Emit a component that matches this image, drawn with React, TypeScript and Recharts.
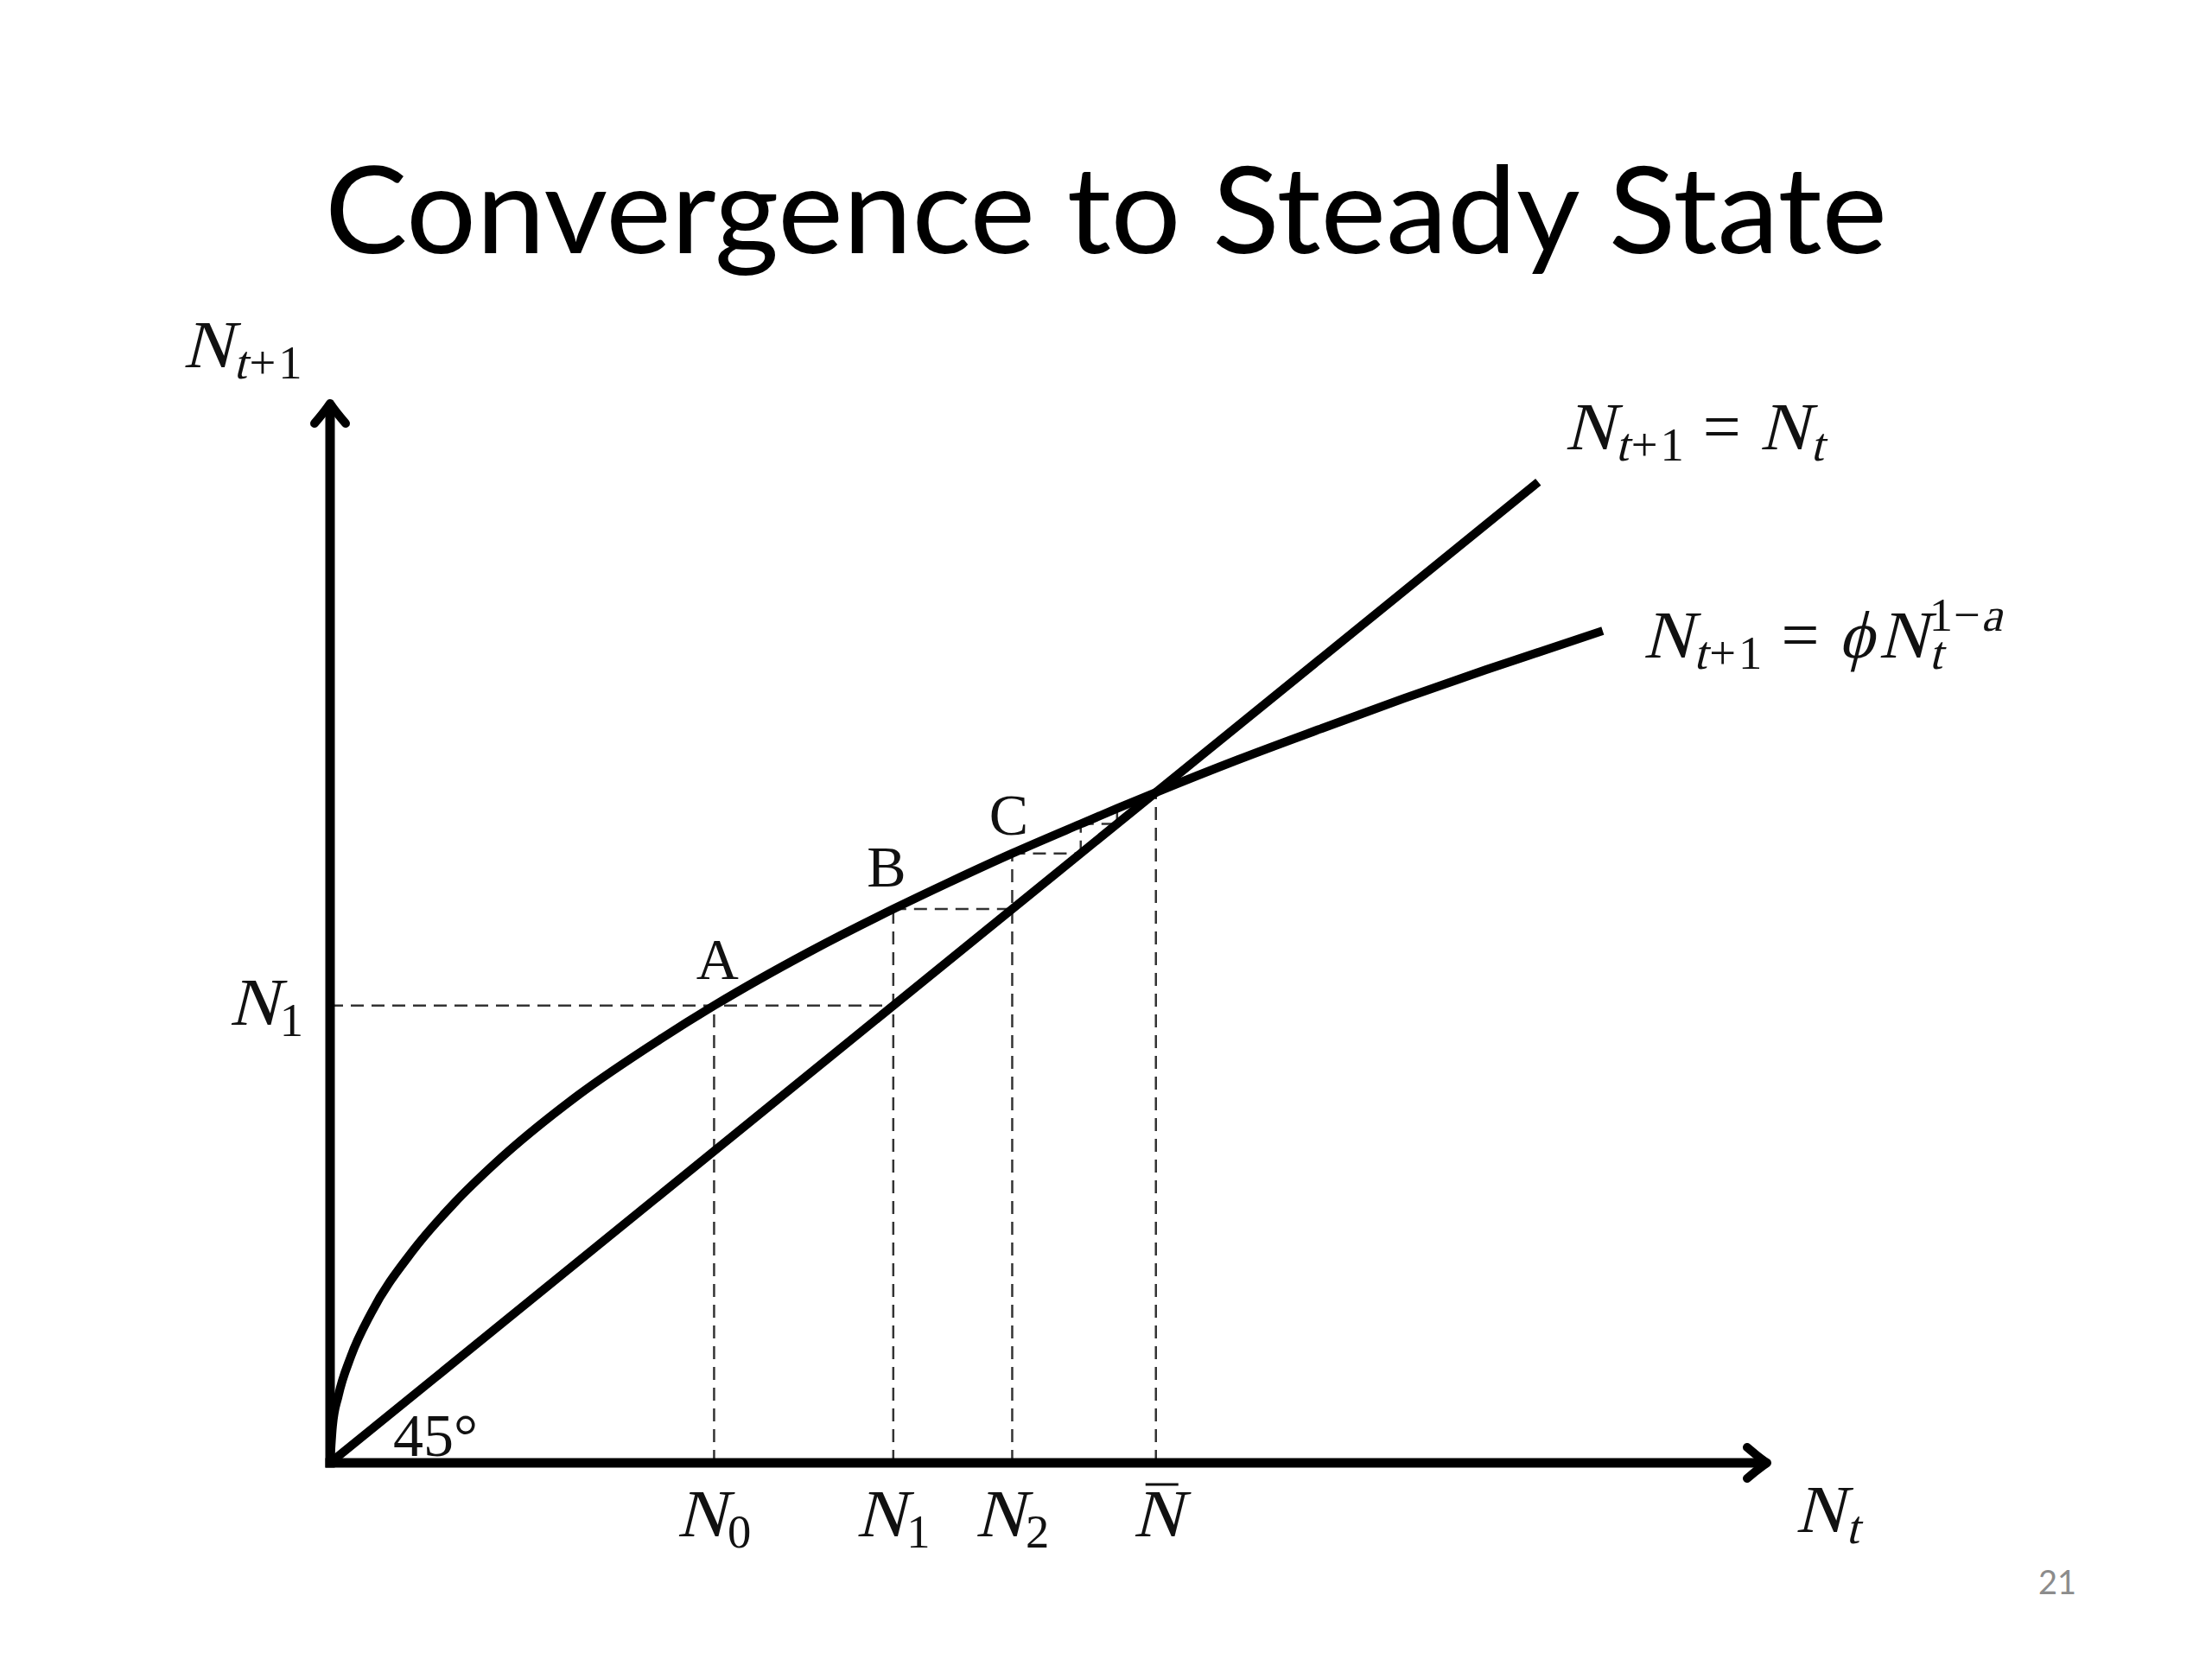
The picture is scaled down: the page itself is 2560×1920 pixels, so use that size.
import React from "react";
import {
  ComposedChart,
  Line,
  XAxis,
  YAxis,
  ReferenceLine,
  ReferenceDot,
} from "recharts";

// values (N_t on x, N_t+1 on y, steady state = 1)
const curveX = [0, 0.003, 0.01, 0.025, 0.05, 0.1, 0.15, 0.2, 0.3, 0.4, 0.465, 0.58, 0.682, 0.75, 0.826, 0.909, 0.953, 1.0, 1.1, 1.2, 1.3, 1.4, 1.541];
const curveY = [0, 0.055, 0.1, 0.158, 0.224, 0.316, 0.387, 0.447, 0.548, 0.632, 0.682, 0.762, 0.826, 0.866, 0.909, 0.953, 0.976, 1.0, 1.049, 1.095, 1.14, 1.183, 1.241];
const diagX = [0, 1.463];
const diagY = [0, 1.463];
// cobweb steps N0, N1, N2, N3, N4, N5
const stepN = [0.465, 0.682, 0.826, 0.909, 0.953, 0.976];
const steadyN = 1.0;
const tickValues = [stepN[0], stepN[1], stepN[2], steadyN];
const tickSubs = ["0", "1", "2", ""];
const pointNames = ["A", "B", "C"];
const xMax = 1.74;
const yMax = 1.58;

const curveData = curveX.map((x, i) => ({ x, y: curveY[i] }));
const diagData = diagX.map((x, i) => ({ x, y: diagY[i] }));

const SERIF = "'Liberation Serif', 'DejaVu Serif', serif";
const MATH_SIZE = 78;

// Liberation Serif advance widths (em), used to lay out the math pieces
const ADV: Record<string, number> = {
  N: 0.722, t: 0.278, "+": 0.564, "0": 0.5, "1": 0.5, "2": 0.5,
  "=": 0.564, "\u2212": 0.564, a: 0.444, "\u03D5": 0.6,
};

type Piece = { t: string; it?: boolean; lv?: number; dx?: number };

function MathText({ x, y, parts, anchor = "start" }: { x: number; y: number; parts: Piece[]; anchor?: string }) {
  let cx = 0;
  const items = parts.map((p) => {
    const size = p.lv ? MATH_SIZE * 0.7 : MATH_SIZE;
    cx += p.dx ?? 0;
    const px = cx;
    cx += [...p.t].reduce((s, c) => s + (ADV[c] ?? 0.5) * size, 0);
    return { ...p, px, size };
  });
  const shift = anchor === "middle" ? -cx / 2 : anchor === "end" ? -cx : 0;
  return (
    <g>
      {items.map((p, i) => {
        const off = p.lv === 1 ? 13 : p.lv === -1 ? -31 : 0;
        const tx = x + shift + p.px;
        const ty = y + off;
        return (
          <text
            key={i}
            transform={`translate(${tx},${ty})${p.it ? " skewX(-14)" : ""}`}
            fontFamily={SERIF}
            fontSize={p.size}
            fill="#111"
          >
            {p.t}
          </text>
        );
      })}
    </g>
  );
}

const subT1: Piece[] = [
  { t: "t", it: true, lv: 1, dx: 2 },
  { t: "+", lv: 1, dx: 3 },
  { t: "1", lv: 1, dx: 3 },
];
const labelYAxis: Piece[] = [{ t: "N", it: true }, ...subT1];
const labelXAxis: Piece[] = [{ t: "N", it: true }, { t: "t", it: true, lv: 1, dx: 2 }];
const labelDiag: Piece[] = [
  { t: "N", it: true },
  ...subT1,
  { t: "=", dx: 22 },
  { t: "N", it: true, dx: 22 },
  { t: "t", it: true, lv: 1, dx: 2 },
];
const labelCurve: Piece[] = [
  { t: "N", it: true },
  ...subT1,
  { t: "=", dx: 22 },
  { t: "\u03D5", it: true, dx: 22 },
  { t: "N", it: true },
  { t: "t", it: true, lv: 1, dx: 2 },
  { t: "1", lv: -1, dx: -15 },
  { t: "\u2212", lv: -1, dx: 1 },
  { t: "a", it: true, lv: -1, dx: 1 },
];

function Arrow(props: any) {
  const { x1, y1, x2, y2 } = props;
  const ang = Math.atan2(y2 - y1, x2 - x1);
  const deg = (ang * 180) / Math.PI;
  const ex = x2 - Math.cos(ang) * 7;
  const ey = y2 - Math.sin(ang) * 7;
  return (
    <g>
      <line x1={x1} y1={y1} x2={ex} y2={ey} stroke="#000" strokeWidth={11} strokeLinecap="square" />
      <path
        transform={`translate(${x2},${y2}) rotate(${deg})`}
        d="M -23 -18 Q -9 -6 0 0 Q -9 6 -23 18"
        fill="none"
        stroke="#000"
        strokeWidth={10}
        strokeLinecap="round"
        strokeLinejoin="round"
      />
    </g>
  );
}

function XTick(props: any) {
  const { x, index } = props;
  const base = 1778;
  const sub = tickSubs[index] ?? "";
  if (!sub) {
    return (
      <g>
        <MathText x={x + 2} y={base} anchor="middle" parts={[{ t: "N", it: true }]} />
        <line x1={x - 12} y1={base - 60} x2={x + 26} y2={base - 60} stroke="#111" strokeWidth={3} />
      </g>
    );
  }
  return <MathText x={x} y={base} anchor="middle" parts={[{ t: "N", it: true }, { t: sub, lv: 1, dx: 2 }]} />;
}

function YTick(props: any) {
  const { y } = props;
  return <MathText x={351} y={y + 22} anchor="end" parts={[{ t: "N", it: true }, { t: "1", lv: 1, dx: 2 }]} />;
}

const dash = { stroke: "#333", strokeWidth: 2.5, strokeDasharray: "15 9" };

// cobweb segments built from the step values
const vSegs = stepN.slice(0, 5).map((n, i) => [
  { x: n, y: i < 3 ? 0 : n },
  { x: n, y: stepN[i + 1] },
]);
const hSegs = stepN.slice(0, 4).map((n, i) => [
  { x: i === 0 ? 0 : n, y: stepN[i + 1] },
  { x: stepN[i + 1], y: stepN[i + 1] },
]);

const letterOffsets = [
  [4, -31],
  [-8, -26],
  [-4, -22],
];

export default function App() {
  return (
    <div style={{ position: "absolute", left: 0, top: 0, width: 2560, height: 1920, background: "#fff" }}>
      <svg width={2560} height={330} style={{ position: "absolute", left: 0, top: 0 }}>
        <text x={1280} y={293} textAnchor="middle" fontFamily="Lato, 'Open Sans', sans-serif" fontSize={140} fill="#000" textLength={1808} lengthAdjust="spacingAndGlyphs">
          Convergence to Steady State
        </text>
      </svg>
      <div style={{ position: "absolute", left: 0, top: 0 }}>
        <ComposedChart width={2560} height={1920} margin={{ top: 467, right: 515, bottom: 127, left: 282 }}>
          <XAxis
            type="number"
            dataKey="x"
            domain={[0, xMax]}
            ticks={tickValues}
            interval={0}
            tick={<XTick />}
            axisLine={false}
            tickLine={false}
            height={100}
            allowDataOverflow
          />
          <YAxis
            type="number"
            domain={[0, yMax]}
            ticks={[stepN[1]]}
            interval={0}
            tick={<YTick />}
            axisLine={false}
            tickLine={false}
            width={100}
            allowDataOverflow
          />
          {vSegs.map((s, i) => (
            <ReferenceLine key={`v${i}`} segment={s} ifOverflow="visible" {...dash} />
          ))}
          {hSegs.map((s, i) => (
            <ReferenceLine key={`h${i}`} segment={s} ifOverflow="visible" {...dash} />
          ))}
          <ReferenceLine segment={[{ x: steadyN, y: 0 }, { x: steadyN, y: steadyN }]} ifOverflow="visible" {...dash} />
          <Line data={diagData} dataKey="y" type="linear" stroke="#000" strokeWidth={10} dot={false} isAnimationActive={false} />
          <Line data={curveData} dataKey="y" type="monotone" stroke="#000" strokeWidth={10} dot={false} isAnimationActive={false} />
          <ReferenceLine segment={[{ x: 0, y: 0 }, { x: xMax, y: 0 }]} ifOverflow="visible" shape={(p: any) => <Arrow {...p} />} />
          <ReferenceLine segment={[{ x: 0, y: 0 }, { x: 0, y: yMax }]} ifOverflow="visible" shape={(p: any) => <Arrow {...p} />} />
          {pointNames.map((name, i) => (
            <ReferenceDot
              key={name}
              x={stepN[i]}
              y={stepN[i + 1]}
              r={1}
              ifOverflow="visible"
              shape={(p: any) => (
                <text x={p.cx + letterOffsets[i][0]} y={p.cy + letterOffsets[i][1]} textAnchor="middle" fontFamily={SERIF} fontSize={68} fill="#111">
                  {name}
                </text>
              )}
            />
          ))}
          <ReferenceDot
            x={0}
            y={0}
            r={1}
            ifOverflow="visible"
            shape={(p: any) => (
              <text x={p.cx + 73} y={p.cy - 8} fontFamily={SERIF} fontSize={70} fill="#111">
                45°
              </text>
            )}
          />
          <ReferenceDot
            x={diagX[1]}
            y={diagY[1]}
            r={1}
            ifOverflow="visible"
            shape={(p: any) => <MathText x={p.cx + 31} y={p.cy - 38} parts={labelDiag} />}
          />
          <ReferenceDot
            x={curveX[curveX.length - 1]}
            y={curveY[curveY.length - 1]}
            r={1}
            ifOverflow="visible"
            shape={(p: any) => <MathText x={p.cx + 47} y={p.cy + 31} parts={labelCurve} />}
          />
          <ReferenceDot
            x={0}
            y={yMax}
            r={1}
            ifOverflow="visible"
            shape={(p: any) => <MathText x={p.cx - 170} y={p.cy - 42} parts={labelYAxis} />}
          />
          <ReferenceDot
            x={xMax}
            y={0}
            r={1}
            ifOverflow="visible"
            shape={(p: any) => <MathText x={p.cx + 33} y={p.cy + 80} parts={labelXAxis} />}
          />
        </ComposedChart>
      </div>
      <svg width={2560} height={1920} style={{ position: "absolute", left: 0, top: 0, pointerEvents: "none" }}>
        <text x={2403} y={1845} textAnchor="end" fontFamily="Lato, 'Open Sans', sans-serif" fontSize={38} fill="#8c8c8c">
          21
        </text>
      </svg>
    </div>
  );
}
